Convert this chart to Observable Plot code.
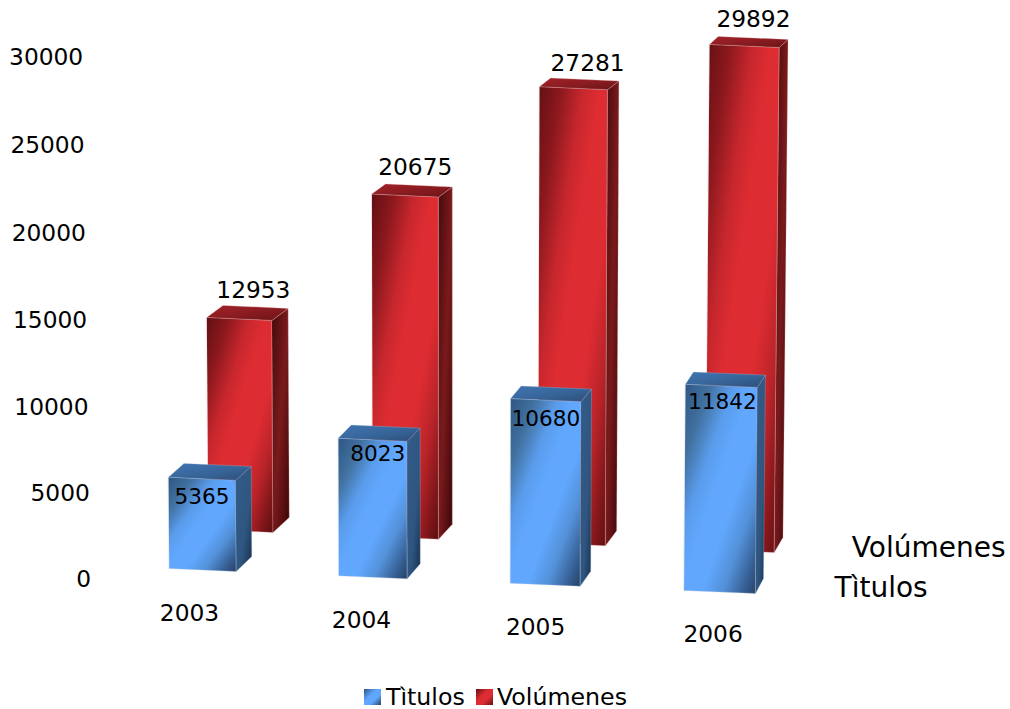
<!DOCTYPE html>
<html><head><meta charset="utf-8">
<script src="https://cdn.jsdelivr.net/npm/d3@7"></script>
<script src="https://cdn.jsdelivr.net/npm/@observablehq/plot@0.6"></script>
<style>
html,body{margin:0;padding:0;background:#fff;overflow:hidden}
#legend{height:29px;position:relative;font:23.7px "DejaVu Sans",sans-serif;color:#000;line-height:29px;white-space:nowrap}
#legend i{position:absolute;top:9px;width:17px;height:16px;display:block}
#legend span{position:absolute;top:3px}
</style></head><body><div id="chart"></div><div id="legend"></div>
<script>
const years = ["2003", "2004", "2005", "2006"];
const titulos = [5365, 8023, 10680, 11842];
const volumenes = [12953, 20675, 27281, 29892];
const yTicks = [0, 5000, 10000, 15000, 20000, 25000, 30000];
const seriesNames = ["Tìtulos", "Volúmenes"];

const FONT = "DejaVu Sans";
const UNITS_PER_PX = 30000 / 522, SLOT_PX = 517 / 3;

// Oblique projection of a bar corner into (slot, value) space.
// row 0 = front row, 1 = back row; u across the bar, d into depth, t up the bar.
function corner(i, row, value, u, d, t) {
  const left = i - 0.0072 * i * (3 - i) + (row ? 0.2223 - 0.0276 * i : 0);
  const width = 0.39 + 0.009 * i - (row ? 0.012 : 0);
  const depth = 0.09 - 0.0145 * i + (row ? 0.004 : 0);
  const shrink = row ? 0.941 + 0.01 * i : 0.978 + 0.0075 * i;
  const base = row ? 2816 - 383 * i : 575 - 421 * i;
  const h = value * t;
  const xRef = left + u * width;
  const x = xRef - (xRef - 1.58) * 5e-7 * value * (1 - t) + d * depth;
  const y = base + h * shrink - u * 172 + d * (862 - h * 0.01345);
  return {x, y};
}
const faceCorners = {
  front: [[0,0,0],[1,0,0],[1,0,1],[0,0,1]],
  side:  [[1,0,0],[1,1,0],[1,1,1],[1,0,1]],
  top:   [[0,0,1],[1,0,1],[1,1,1],[0,1,1]]
};
function faces(values, row, face) {
  return values.flatMap((v, i) => faceCorners[face].map(([u, d, t]) => ({
    ...corner(i, row, v, u, d, t), id: `${years[i]}-${face}`
  })));
}
function grad(id, stops) {
  return `<linearGradient id="${id}" x1="0" y1="0" x2="1" y2="1">` +
    stops.map(([o, c]) => `<stop offset="${o}" stop-color="${c}"/>`).join("") + `</linearGradient>`;
}
const defs = () => {
  const g = document.createElementNS("http://www.w3.org/2000/svg", "defs");
  g.innerHTML =
    grad("bF", [[0,"#2e5684"],[0.18,"#41719f"],[0.34,"#5a9cec"],[0.46,"#60a7fd"],[0.62,"#60a7fd"],[0.76,"#5390d8"],[0.9,"#365f93"],[1,"#263f63"]]) +
    grad("bS", [[0,"#335c8a"],[0.6,"#2f5680"],[1,"#17304c"]]) +
    grad("bT", [[0,"#3f75b2"],[0.5,"#38669b"],[1,"#2c4f78"]]) +
    grad("rF", [[0,"#621014"],[0.16,"#8a181d"],[0.32,"#c6272d"],[0.44,"#dd2c32"],[0.64,"#dd2c32"],[0.78,"#b92429"],[0.9,"#83171b"],[1,"#5a0e11"]]) +
    grad("rS", [[0,"#470a0c"],[0.5,"#7a1a1c"],[1,"#3a0608"]]) +
    grad("rT", [[0,"#a3222a"],[0.5,"#8a1c21"],[1,"#6b1417"]]);
  return g;
};
const face = (values, row, f, fill, stroke) => Plot.line(faces(values, row, f), {
  x: "x", y: "y", z: "id", curve: "linear-closed", fill,
  stroke, strokeWidth: 1, strokeOpacity: 0.3
});
const barMarks = (values, row, prefix, stroke) => [
  face(values, row, "front", `url(#${prefix}F)`, stroke),
  face(values, row, "side", `url(#${prefix}S)`, stroke),
  face(values, row, "top", `url(#${prefix}T)`, stroke)
];
const textOpts = {x: "x", y: "y", text: "t", fontFamily: FONT, fontSize: 23.3, fill: "#000"};

// label nudges, in px, from the face centre / top edge
const frontNudge = [[0,-20],[5,-16],[0,-20],[1,-18]];
const backNudge = [[14,27],[10,27],[14,23],[9,25]];
const frontLabels = titulos.map((v, i) => {
  const a = corner(i, 0, v, 0, 0, 1), b = corner(i, 0, v, 1, 0, 1);
  return {x: (a.x + b.x) / 2 + frontNudge[i][0] / SLOT_PX, y: a.y + frontNudge[i][1] * UNITS_PER_PX, t: String(v)};
});
const backLabels = volumenes.map((v, i) => {
  const a = corner(i, 1, v, 0, 0, 1), b = corner(i, 1, v, 1, 0, 1);
  return {x: (a.x + b.x) / 2 + backNudge[i][0] / SLOT_PX, y: a.y + backNudge[i][1] * UNITS_PER_PX, t: String(v)};
});
const tickLabels = yTicks.map(v => ({
  x: -0.449 - 0.046 * v / 30000,
  y: v - 60 - 110 * Math.sin(Math.PI * v / 30000),
  t: String(v)
}));
const yearLabels = years.map((t, i) => ({
  x: [21 / SLOT_PX, 1.12, 2.13, 3.16][i], y: -2011 - 402 * i, t
}));
const rowLabels = [
  {x: 3.965, y: 1724, t: seriesNames[1]},
  {x: 3.865, y: -575, t: seriesNames[0]}
];

const chart = Plot.plot({
  width: 1010, height: 680,
  marginLeft: 168, marginRight: 325, marginTop: 56, marginBottom: 102,
  x: {domain: [0, 3], axis: null},
  y: {domain: [0, 30000], axis: null},
  style: {background: "#fff", overflow: "visible"},
  marks: [
    defs,
    ...barMarks(volumenes, 1, "r", "#e8b5b5"),
    ...barMarks(titulos, 0, "b", "#a9bfdc"),
    Plot.text(tickLabels, {...textOpts, textAnchor: "end"}),
    Plot.text(yearLabels, textOpts),
    Plot.text(frontLabels, {...textOpts, fontSize: 21.6}),
    Plot.text(backLabels, textOpts),
    Plot.text(rowLabels, {...textOpts, textAnchor: "start", fontSize: 28})
  ]
});
document.getElementById("chart").appendChild(chart);
chart.style.display = "block";

const lg = document.getElementById("legend");
lg.innerHTML =
  `<i style="left:364px;background:linear-gradient(135deg,#2e5684,#60a7fd 40%,#60a7fd 65%,#263f63)"></i><span style="left:386px">${seriesNames[0]}</span>` +
  `<i style="left:476px;background:linear-gradient(135deg,#621014,#dd2c32 40%,#dd2c32 65%,#5a0e11)"></i><span style="left:497px">${seriesNames[1]}</span>`;
</script></body></html>
